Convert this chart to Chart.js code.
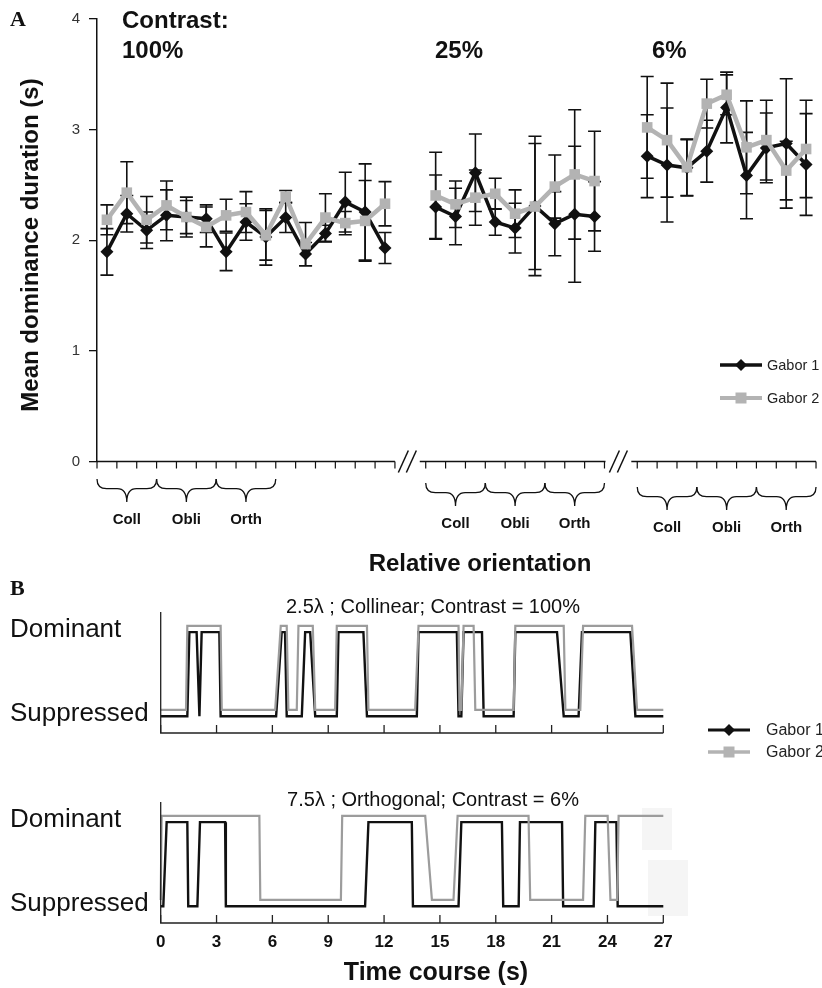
<!DOCTYPE html>
<html>
<head>
<meta charset="utf-8">
<script src="https://cdn.jsdelivr.net/npm/chart.js@4.4.0/dist/chart.umd.min.js"></script>
<style>
  body { margin: 0; background: #fff; width: 822px; height: 988px; overflow: hidden; position: relative; }
  canvas { position: absolute; left: 0; }
</style>
</head>
<body>
<canvas id="chartA" width="822" height="600" style="top:0"></canvas>
<canvas id="chartB1" width="822" height="145" style="top:595px"></canvas>
<canvas id="chartB2" width="822" height="208" style="top:780px"></canvas>
<canvas id="legendB" width="822" height="80" style="top:700px"></canvas>
<script>
// ---- panel A data: mean dominance duration (s) per relative orientation ----
var contrastLabels = ['100%', '25%', '6%'];
var orientLabels = ['Coll', 'Obli', 'Orth'];

var c100Gabor1 = [1.895, 2.24, 2.09, 2.225, 2.21, 2.195, 1.895, 2.165, 2.03, 2.205, 1.875, 2.06, 2.345, 2.255, 1.93];
var c100Gabor2 = [2.185, 2.43, 2.185, 2.315, 2.21, 2.12, 2.225, 2.255, 2.045, 2.395, 1.965, 2.205, 2.155, 2.175, 2.33];
var c100Err1 = [0.21, 0.165, 0.165, 0.23, 0.18, 0.125, 0.17, 0.165, 0.255, 0.135, 0.105, 0.075, 0.27, 0.435, 0.14];
var c100Err2 = [0.135, 0.28, 0.21, 0.22, 0.15, 0.18, 0.145, 0.185, 0.225, 0.055, 0.195, 0.215, 0.105, 0.365, 0.2];

var c25Gabor1 = [2.30, 2.215, 2.61, 2.165, 2.11, 2.31, 2.15, 2.235, 2.215];
var c25Gabor2 = [2.405, 2.325, 2.385, 2.42, 2.24, 2.305, 2.485, 2.595, 2.535];
var c25Err1 = [0.29, 0.255, 0.35, 0.12, 0.225, 0.63, 0.29, 0.615, 0.315];
var c25Err2 = [0.39, 0.21, 0.25, 0.14, 0.215, 0.57, 0.285, 0.585, 0.45];

var c6Gabor1 = [2.76, 2.68, 2.655, 2.805, 3.20, 2.585, 2.835, 2.875, 2.685];
var c6Gabor2 = [3.02, 2.905, 2.66, 3.235, 3.315, 2.84, 2.905, 2.63, 2.825];
var c6Err1 = [0.375, 0.515, 0.255, 0.28, 0.32, 0.39, 0.315, 0.585, 0.46];
var c6Err2 = [0.46, 0.515, 0.255, 0.22, 0.18, 0.42, 0.36, 0.265, 0.44];

var yTicksA = [0, 1, 2, 3, 4];

// ---- panel B data: dominance traces (time in s, state 1 = dominant) ----
var timeTicks = [0, 3, 6, 9, 12, 15, 18, 21, 24, 27];

var topG1Time = [0, 1.43, 1.54, 1.93, 2.08, 2.2, 3.15, 3.22, 6.2, 6.5, 6.68, 6.77, 7.58, 7.76, 8.03, 8.3, 9.46, 9.55, 10.89, 11.08, 13.76, 13.85, 15.91, 16.0, 16.15, 16.27, 17.26, 17.35, 18.96, 19.05, 21.29, 21.65, 22.45, 22.63, 25.23, 25.5, 27];
var topG1State = [0, 0, 1, 1, 0, 1, 1, 0, 0, 1, 1, 0, 0, 1, 1, 0, 0, 1, 1, 0, 0, 1, 1, 0, 0, 1, 1, 0, 0, 1, 1, 0, 0, 1, 1, 0, 0];
var topG2Time = [0, 1.36, 1.43, 3.22, 3.28, 6.15, 6.45, 6.77, 6.86, 7.31, 7.4, 8.17, 8.3, 9.37, 9.46, 11.08, 11.16, 13.67, 13.85, 16.0, 16.05, 16.15, 16.27, 16.81, 16.9, 18.96, 19.05, 21.65, 21.74, 22.54, 22.69, 25.32, 25.59, 27];
var topG2State = [0, 0, 1, 1, 0, 0, 1, 1, 0, 0, 1, 1, 0, 0, 1, 1, 0, 0, 1, 1, 0, 0, 1, 1, 0, 0, 1, 1, 0, 0, 1, 1, 0, 0];

var botG1Time = [0, 0.14, 0.32, 1.43, 1.48, 1.97, 2.11, 3.46, 3.5, 10.98, 11.16, 13.49, 13.55, 16.0, 16.15, 18.33, 18.4, 19.23, 19.3, 21.56, 21.62, 23.26, 23.35, 24.48, 24.55, 27];
var botG1State = [0, 0, 1, 1, 0, 0, 1, 1, 0, 0, 1, 1, 0, 0, 1, 1, 0, 0, 1, 1, 0, 0, 1, 1, 0, 0];
var botG2Time = [0, 0.05, 5.3, 5.35, 9.68, 9.75, 14.21, 14.57, 15.73, 15.95, 19.76, 19.85, 22.69, 22.81, 24.01, 24.16, 24.52, 24.6, 27];
var botG2State = [0, 1, 1, 0, 0, 1, 1, 0, 0, 1, 1, 0, 0, 1, 1, 0, 0, 1, 1];

// ---- layout ----
var groupOffset = [0, 16.55, 27.2];      // broken x axis: where each contrast group starts
var axisSegments = [[0.5, 15.5], [16.75, 26.1], [27.4, 36.7]];
var braceTop = [479, 483, 487];
var orientLabelY = [520, 524, 528];
var GRAY_A = '#b3b3b3', GRAY_B = '#9c9c9c', DARK = '#111';
var GRAY_SHIFT = 0.075;  // gray trace drawn slightly above the black one

Chart.defaults.font.family = "'Liberation Sans', Arial, sans-serif";
Chart.defaults.animation = false;

function buildPts(groups) {
  var pts = [];
  groups.forEach(function(vals, g) {
    if (g > 0) pts.push({ x: groupOffset[g] - 0.5, y: null });
    vals.forEach(function(v, i) { pts.push({ x: groupOffset[g] + i + 1, y: v }); });
  });
  return pts;
}
function buildErr(groups) {
  var out = [];
  groups.forEach(function(vals, g) {
    if (g > 0) out.push(null);
    out = out.concat(vals);
  });
  return out;
}

function drawBrace(ctx, x1, x2, y, h) {
  var xm = (x1 + x2) / 2, q = h * 0.42;
  ctx.beginPath();
  ctx.moveTo(x1, y);
  ctx.quadraticCurveTo(x1, y + q, x1 + q, y + q);
  ctx.lineTo(xm - q, y + q);
  ctx.quadraticCurveTo(xm, y + q, xm, y + h);
  ctx.quadraticCurveTo(xm, y + q, xm + q, y + q);
  ctx.lineTo(x2 - q, y + q);
  ctx.quadraticCurveTo(x2, y + q, x2, y);
  ctx.stroke();
}

function legendItem(ctx, x, y, color, width, style, label, size, gap) {
  ctx.save();
  ctx.strokeStyle = color; ctx.fillStyle = color; ctx.lineWidth = width;
  ctx.beginPath(); ctx.moveTo(x, y); ctx.lineTo(x + 42, y); ctx.stroke();
  var cx = x + 21;
  ctx.beginPath();
  if (style === 'diamond') {
    ctx.moveTo(cx, y - 6); ctx.lineTo(cx + 6, y); ctx.lineTo(cx, y + 6); ctx.lineTo(cx - 6, y);
  } else {
    ctx.rect(cx - 5.5, y - 5.5, 11, 11);
  }
  ctx.closePath(); ctx.fill();
  ctx.fillStyle = '#222';
  ctx.font = size + "px 'Liberation Sans', Arial, sans-serif";
  ctx.textAlign = 'left'; ctx.textBaseline = 'middle';
  ctx.fillText(label, x + gap, y + 1);
  ctx.restore();
}

var panelA = {
  id: 'panelA',
  beforeDatasetsDraw: function(chart) {
    var ctx = chart.ctx, ys = chart.scales.y;
    ctx.save();
    ctx.strokeStyle = DARK; ctx.lineWidth = 1.6;
    chart.data.datasets.forEach(function(ds, di) {
      var meta = chart.getDatasetMeta(di);
      ds.data.forEach(function(p, i) {
        var e = ds.errs[i];
        if (p.y === null || e === null) return;
        var x = meta.data[i].x;
        var yt = ys.getPixelForValue(p.y + e), yb = ys.getPixelForValue(p.y - e);
        ctx.beginPath();
        ctx.moveTo(x, yt); ctx.lineTo(x, yb);
        ctx.moveTo(x - 6.5, yt); ctx.lineTo(x + 6.5, yt);
        ctx.moveTo(x - 6.5, yb); ctx.lineTo(x + 6.5, yb);
        ctx.stroke();
      });
    });
    ctx.restore();
  },
  afterDraw: function(chart) {
    var ctx = chart.ctx, xs = chart.scales.x, ys = chart.scales.y;
    var y0 = ys.getPixelForValue(0);
    ctx.save();
    ctx.strokeStyle = DARK; ctx.lineWidth = 1.5;
    // broken x axis
    axisSegments.forEach(function(s) {
      ctx.beginPath();
      ctx.moveTo(xs.getPixelForValue(s[0]), y0);
      ctx.lineTo(Math.min(xs.getPixelForValue(s[1]), 822), y0);
      ctx.stroke();
    });
    var counts = [c100Gabor1.length, c25Gabor1.length, c6Gabor1.length];
    ctx.lineWidth = 1.2;
    counts.forEach(function(n, g) {
      for (var k = 0; k <= n; k++) {
        var px = xs.getPixelForValue(groupOffset[g] + k + 0.5);
        if (px > 822) continue;
        ctx.beginPath(); ctx.moveTo(px, y0); ctx.lineTo(px, y0 + 7); ctx.stroke();
      }
    });
    // break marks
    ctx.lineWidth = 1.5;
    for (var b = 0; b < 2; b++) {
      var cx = (xs.getPixelForValue(axisSegments[b][1]) + xs.getPixelForValue(axisSegments[b + 1][0])) / 2;
      [-4, 4].forEach(function(dx) {
        ctx.beginPath();
        ctx.moveTo(cx + dx - 5, y0 + 11); ctx.lineTo(cx + dx + 5, y0 - 11); ctx.stroke();
      });
    }
    // braces and orientation labels
    ctx.lineWidth = 1.3;
    ctx.fillStyle = DARK;
    ctx.font = "bold 15px 'Liberation Sans Narrow', 'Liberation Sans', Arial, sans-serif";
    ctx.textAlign = 'center'; ctx.textBaseline = 'middle';
    for (var g = 0; g < 3; g++) {
      for (var j = 0; j < 3; j++) {
        var x1 = xs.getPixelForValue(groupOffset[g] + 0.5 + 3 * j);
        var x2 = xs.getPixelForValue(groupOffset[g] + 3.5 + 3 * j);
        drawBrace(ctx, x1, x2, braceTop[g], 23);
        ctx.fillText(orientLabels[j], (x1 + x2) / 2, orientLabelY[g]);
      }
    }
    // contrast labels
    ctx.font = "bold 24px 'Liberation Sans', Arial, sans-serif";
    ctx.textAlign = 'left';
    ctx.fillText('Contrast:', 122, 21);
    ctx.fillText(contrastLabels[0], 122, 51);
    ctx.fillText(contrastLabels[1], 435, 51);
    ctx.fillText(contrastLabels[2], 652, 51);
    // axis titles
    ctx.textAlign = 'center';
    ctx.fillText('Relative orientation', 480, 564);
    ctx.save();
    ctx.translate(31, 245); ctx.rotate(-Math.PI / 2);
    ctx.fillText('Mean dominance duration (s)', 0, 0);
    ctx.restore();
    // panel letters
    ctx.font = "bold 22px 'Liberation Serif', 'Times New Roman', serif";
    ctx.textAlign = 'left';
    ctx.fillText('A', 10, 20);
    ctx.fillText('B', 10, 589);
    ctx.restore();
    legendItem(ctx, 720, 365, DARK, 3.5, 'diamond', 'Gabor 1', 14.5, 47);
    legendItem(ctx, 720, 398, GRAY_A, 4, 'square', 'Gabor 2', 14.5, 47);
  }
};

new Chart(document.getElementById('chartA'), {
  type: 'line',
  data: {
    datasets: [
      { label: 'Gabor 2', data: buildPts([c100Gabor2, c25Gabor2, c6Gabor2]), errs: buildErr([c100Err2, c25Err2, c6Err2]),
        borderColor: GRAY_A, backgroundColor: GRAY_A, borderWidth: 4.5, pointStyle: 'rect', pointRadius: 7.5,
        pointBorderWidth: 0, order: 0, spanGaps: false, tension: 0, clip: false },
      { label: 'Gabor 1', data: buildPts([c100Gabor1, c25Gabor1, c6Gabor1]), errs: buildErr([c100Err1, c25Err1, c6Err1]),
        borderColor: DARK, backgroundColor: DARK, borderWidth: 3.5, pointStyle: 'rectRot', pointRadius: 6.5,
        pointBorderWidth: 0, order: 1, spanGaps: false, tension: 0, clip: false }
    ]
  },
  options: {
    responsive: false,
    animation: false,
    layout: { padding: { left: 0, right: 0, top: 19, bottom: 138.5 } },
    plugins: { legend: { display: false }, tooltip: { enabled: false } },
    scales: {
      x: { type: 'linear', min: 0.5, max: 0.5 + 725 / 20.07, display: false },
      y: {
        min: yTicksA[0], max: yTicksA[yTicksA.length - 1],
        afterFit: function(s) { s.width = 97; },
        afterBuildTicks: function(s) { s.ticks = yTicksA.map(function(v) { return { value: v }; }); },
        ticks: { color: '#333', font: { size: 15 }, padding: 9 },
        grid: { drawOnChartArea: false, tickLength: 8, color: DARK, lineWidth: 1.3 },
        border: { color: DARK, width: 1.5 }
      }
    }
  },
  plugins: [panelA]
});

// ---- panel B ----
function tracePts(times, states, shift) {
  return times.map(function(t, i) { return { x: t, y: states[i] + shift }; });
}

function makeTrace(id, title, g1t, g1s, g2t, g2s, withLabels, padTop, padBottom, titleY, ghosts) {
  var deco = {
    id: 'deco' + id,
    beforeDatasetsDraw: function(chart) {
      // faint scan blotches visible in the original figure
      var ctx = chart.ctx;
      ctx.save();
      ctx.fillStyle = '#f5f5f5';
      ghosts.forEach(function(r) { ctx.fillRect(r[0], r[1], r[2], r[3]); });
      ctx.restore();
    },
    afterDraw: function(chart) {
      var ctx = chart.ctx, xs = chart.scales.x, ys = chart.scales.y, a = chart.chartArea;
      ctx.save();
      ctx.strokeStyle = '#222'; ctx.lineWidth = 1.3;
      ctx.beginPath();
      ctx.moveTo(a.left, a.top); ctx.lineTo(a.left, a.bottom); ctx.lineTo(a.right, a.bottom);
      ctx.stroke();
      timeTicks.forEach(function(t) {
        var px = xs.getPixelForValue(t);
        ctx.beginPath(); ctx.moveTo(px, a.bottom); ctx.lineTo(px, a.bottom - 8); ctx.stroke();
      });
      ctx.fillStyle = '#111';
      ctx.textBaseline = 'middle';
      ctx.font = "20px 'Liberation Sans', Arial, sans-serif";
      ctx.textAlign = 'center';
      ctx.fillText(title, 433, titleY);
      ctx.font = "26px 'Liberation Sans', Arial, sans-serif";
      ctx.textAlign = 'left';
      ctx.fillText('Dominant', 10, ys.getPixelForValue(1.03));
      ctx.fillText('Suppressed', 10, ys.getPixelForValue(0.03));
      if (withLabels) {
        ctx.font = "bold 17px 'Liberation Sans', Arial, sans-serif";
        ctx.textAlign = 'center';
        timeTicks.forEach(function(t) { ctx.fillText(String(t), xs.getPixelForValue(t), a.bottom + 19); });
        ctx.font = "bold 25px 'Liberation Sans', Arial, sans-serif";
        ctx.fillText('Time course (s)', 436, a.bottom + 50);
      }
      ctx.restore();
    }
  };
  return new Chart(document.getElementById(id), {
    type: 'line',
    data: {
      datasets: [
        { label: 'Gabor 2', data: tracePts(g2t, g2s, GRAY_SHIFT), borderColor: GRAY_B, borderWidth: 2.2,
          pointRadius: 0, tension: 0, order: 0, clip: false },
        { label: 'Gabor 1', data: tracePts(g1t, g1s, 0), borderColor: DARK, borderWidth: 2.4,
          pointRadius: 0, tension: 0, order: 1, clip: false }
      ]
    },
    options: {
      responsive: false,
      animation: false,
      layout: { padding: { left: 160.7, right: 822 - 663.3, top: padTop, bottom: padBottom } },
      plugins: { legend: { display: false }, tooltip: { enabled: false } },
      scales: {
        x: { type: 'linear', min: timeTicks[0], max: timeTicks[timeTicks.length - 1], display: false },
        y: { min: -0.2, max: 1.24, display: false }
      }
    },
    plugins: [deco]
  });
}

makeTrace('chartB1', '2.5\u03BB ; Collinear; Contrast = 100%', topG1Time, topG1State, topG2Time, topG2State,
  false, 17, 7, 12, []);
makeTrace('chartB2', '7.5\u03BB ; Orthogonal; Contrast = 6%', botG1Time, botG1State, botG2Time, botG2State,
  true, 22, 65, 20, [[642, 28, 30, 42], [648, 80, 40, 56]]);

// legend of panel B sits between the two traces, on the right
(function() {
  var ctx = document.getElementById('legendB').getContext('2d');
  legendItem(ctx, 708, 30, DARK, 3.2, 'diamond', 'Gabor 1', 16, 58);
  legendItem(ctx, 708, 52, GRAY_A, 3.6, 'square', 'Gabor 2', 16, 58);
})();
</script>
</body>
</html>
